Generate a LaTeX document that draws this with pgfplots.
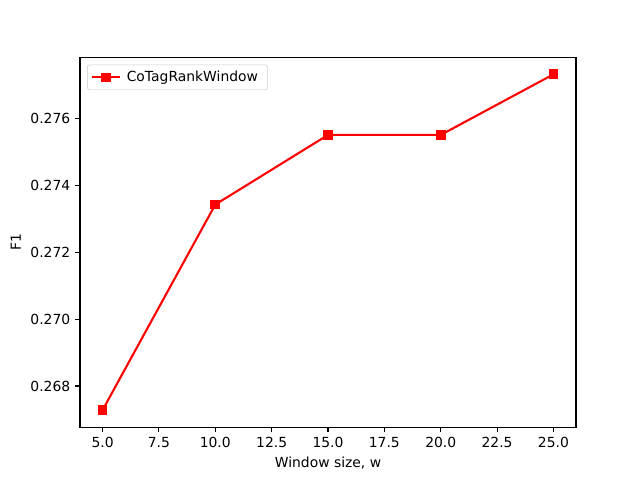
\documentclass[border=0pt]{standalone}
\usepackage{pgfplots}
\pgfplotsset{compat=1.18}
\usepackage{fontspec}
\setmainfont{DejaVu Sans}
\begin{document}
\begin{tikzpicture}[x=1pt,y=1pt]
\useasboundingbox (0,0) rectangle (460.8,345.6);
\begin{axis}[
  at={(57.6pt,38.016pt)}, anchor=south west,
  scale only axis,
  width=357.12pt, height=266.11pt,
  xmin=4, xmax=26,
  ymin=0.26677, ymax=0.27781,
  xtick={5,7.5,10,12.5,15,17.5,20,22.5,25},
  ytick={0.268,0.270,0.272,0.274,0.276},
  xticklabel style={/pgf/number format/.cd,fixed,fixed zerofill,precision=1},
  yticklabel style={/pgf/number format/.cd,fixed,fixed zerofill,precision=3},
  scaled ticks=false,
  /pgf/number format/assume math mode=true,
  tick align=outside, tick pos=left,
  major tick length=3.5pt,
  tick style={black, line width=0.8pt},
  axis line style={line width=0.8pt},
  ticklabel style={font=\fontsize{10}{12}\selectfont},
  label style={font=\fontsize{10}{12}\selectfont},
  xlabel={Window size, w},
  ylabel={F1},
  legend style={font=\fontsize{10}{12}\selectfont, draw=black!20, rounded corners=2pt,
    at={(0,1)}, xshift=5pt, yshift=-5pt, anchor=north west,
    inner xsep=3pt, inner ysep=2pt,
    nodes={inner xsep=4pt, inner ysep=2.5pt}},
  legend cell align=left,
  legend image code/.code={\draw[mark repeat=2,mark phase=2] plot coordinates {(0pt,0pt) (10pt,0pt) (20pt,0pt)};},
]
\addplot[red, line width=1.5pt, mark=square*, mark size=3pt, mark options={solid, line width=1pt}] coordinates {
  (5, 0.26728)
  (10, 0.27342)
  (15, 0.27550)
  (20, 0.27550)
  (25, 0.27731)
};
\addlegendentry{CoTagRankWindow}
\end{axis}
\end{tikzpicture}
\end{document}
